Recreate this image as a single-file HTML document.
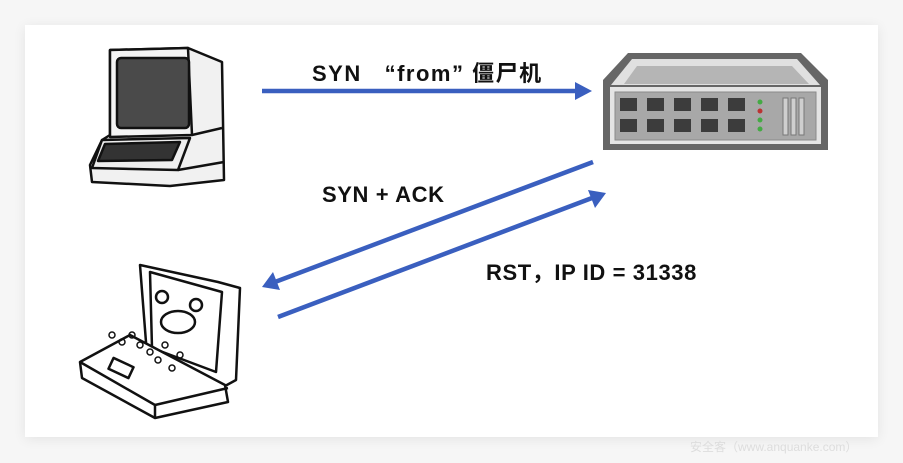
<!DOCTYPE html>
<html><head><meta charset="utf-8"><style>
html,body{margin:0;padding:0;background:#f6f6f6;}
body{width:903px;height:463px;position:relative;overflow:hidden;font-family:"Liberation Sans","Noto Sans CJK SC",sans-serif;}
.card{position:absolute;left:25px;top:25px;width:853px;height:412px;background:#fff;box-shadow:0 2px 12px rgba(0,0,0,0.08);}
.t{position:absolute;font-weight:bold;font-size:22px;color:#111;white-space:nowrap;letter-spacing:0.6px;}
</style></head><body>
<div class="card"></div>
<svg width="903" height="463" style="position:absolute;left:0;top:0">
<g stroke="#111" stroke-width="2.5" stroke-linejoin="round" fill="#f1f1f1">
<path d="M110,50 L188,48 L222,62 L224,180 L170,186 L92,182 L90,165 L102,140 L110,135 Z"/>
<path d="M110,50 L188,48 L192,135 L110,137 Z" fill="#f4f4f4"/>
<rect x="117" y="58" width="72" height="70" rx="4" fill="#4a4a4a"/>
<path d="M102,140 L190,138 L178,170 L92,168 Z" fill="#eee"/>
<path d="M105,144 L180,142 L172,160 L98,161 Z" fill="#333"/>
<path d="M192,135 L222,128" fill="none"/>
<path d="M178,170 L224,162" fill="none"/>
</g>
<g stroke="#111" stroke-width="2.5" stroke-linejoin="round" fill="#fff">
<path d="M140,265 L218,282 L240,288 L236,380 L225,386 L147,355 Z"/>
<path d="M150,272 L222,292 L216,372 L152,348 Z" fill="#fff"/>
<path d="M130,335 L225,385 L228,402 L155,418 L82,378 L80,362 Z"/>
<path d="M80,362 L155,405 L228,388" fill="none"/>
<path d="M155,405 L155,418" fill="none"/>
<circle cx="162" cy="297" r="6"/><circle cx="196" cy="305" r="6"/>
<ellipse cx="178" cy="322" rx="17" ry="11"/>
<rect x="110" y="362" width="22" height="12" transform="rotate(25 121 368)"/>
</g>
<g fill="none" stroke="#111" stroke-width="1.5">
<circle cx="112" cy="335" r="3"/><circle cx="122" cy="342" r="3"/><circle cx="132" cy="335" r="3"/><circle cx="140" cy="345" r="3"/><circle cx="150" cy="352" r="3"/><circle cx="158" cy="360" r="3"/><circle cx="165" cy="345" r="3"/><circle cx="172" cy="368" r="3"/><circle cx="180" cy="355" r="3"/>
</g>
<g>
<path d="M628,53 L801,53 L828,80 L828,150 L603,150 L603,80 Z" fill="#666"/>
<path d="M632,59 L797,59 L820,85 L611,85 Z" fill="#e0e0e0"/>
<path d="M637,66 L792,66 L809,84 L624,84 Z" fill="#b5b5b5"/>
<rect x="610" y="87" width="211" height="57" fill="#e4e4e4"/>
<rect x="615" y="92" width="201" height="48" fill="#a8a8a8" stroke="#8a8a8a"/>
<g fill="#3c3c3c">
<rect x="620" y="98" width="17" height="13"/><rect x="647" y="98" width="17" height="13"/><rect x="674" y="98" width="17" height="13"/><rect x="701" y="98" width="17" height="13"/><rect x="728" y="98" width="17" height="13"/>
<rect x="620" y="119" width="17" height="13"/><rect x="647" y="119" width="17" height="13"/><rect x="674" y="119" width="17" height="13"/><rect x="701" y="119" width="17" height="13"/><rect x="728" y="119" width="17" height="13"/>
</g>
<circle cx="760" cy="102" r="2.5" fill="#4a4"/><circle cx="760" cy="111" r="2.5" fill="#b33"/><circle cx="760" cy="120" r="2.5" fill="#4a4"/><circle cx="760" cy="129" r="2.5" fill="#4a4"/>
<g fill="#cfcfcf" stroke="#777"><rect x="783" y="98" width="5" height="37"/><rect x="791" y="98" width="5" height="37"/><rect x="799" y="98" width="5" height="37"/></g>
</g>
<g stroke="#3a5fbf" stroke-width="4.5" fill="#3a5fbf">
<line x1="262" y1="91" x2="578" y2="91"/>
<line x1="593" y1="162" x2="275" y2="282"/>
<line x1="278" y1="317" x2="592" y2="198"/>
</g>
<g fill="#3a5fbf">
<polygon points="592,91 575,82 575,100"/>
<polygon points="262,287 273,272 280,290"/>
<polygon points="606,193 588,190 595,208"/>
</g>
</svg>
<div class="t" style="left:312px;top:56px;letter-spacing:1.5px;">SYN &nbsp;&nbsp;“from” 僵尸机</div>
<div class="t" style="left:322px;top:182px;">SYN + ACK</div>
<div class="t" style="left:486px;top:255px;">RST，IP ID = 31338</div>
<div style="position:absolute;left:690px;top:438px;font-size:12px;color:#ddd;">安全客（www.anquanke.com）</div>
</body></html>
